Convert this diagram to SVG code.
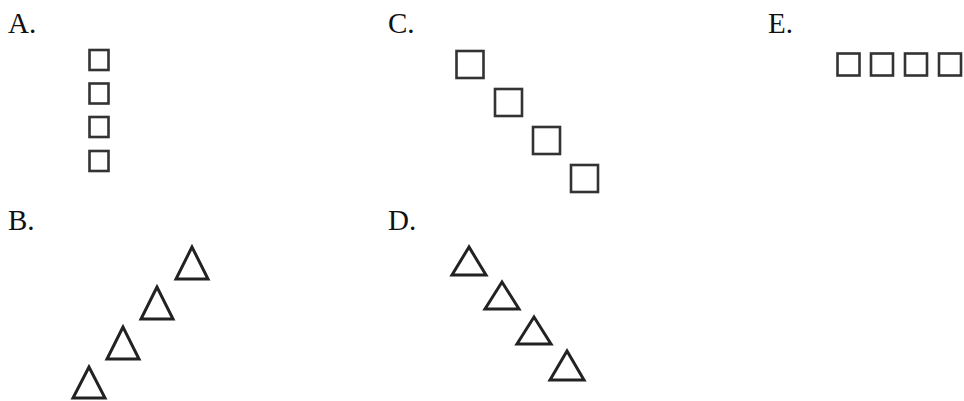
<svg xmlns="http://www.w3.org/2000/svg" width="964" height="401" viewBox="0 0 964 401">
<style>
.lbl{font-family:"Liberation Serif","Times New Roman",serif;font-size:29px;fill:#111}
.sq{fill:none;stroke:#333;stroke-width:2.6}
.tr{fill:none;stroke:#222;stroke-width:3;stroke-linejoin:miter}
</style>
<rect width="964" height="401" fill="#fff"/>
<g id="A">
<text class="lbl" x="8" y="33">A.</text>
<rect class="sq" x="89.5" y="50" width="19" height="20"/>
<rect class="sq" x="89.5" y="83.5" width="19" height="20"/>
<rect class="sq" x="89.5" y="117" width="19" height="20"/>
<rect class="sq" x="89.5" y="151" width="19" height="20"/>
</g>
<g id="C">
<text class="lbl" x="388" y="33">C.</text>
<rect class="sq" x="456.5" y="51" width="27" height="27"/>
<rect class="sq" x="495" y="89" width="27" height="27"/>
<rect class="sq" x="533" y="127" width="27" height="27"/>
<rect class="sq" x="571" y="165" width="27" height="27"/>
</g>
<g id="E">
<text class="lbl" x="768" y="33">E.</text>
<rect class="sq" x="837.5" y="53.5" width="22" height="22"/>
<rect class="sq" x="871" y="53.5" width="22" height="22"/>
<rect class="sq" x="905" y="53.5" width="22" height="22"/>
<rect class="sq" x="939" y="53.5" width="22" height="22"/>
</g>
<g id="B">
<text class="lbl" x="8" y="230">B.</text>
<polygon class="tr" points="192,247 176,279 208,279"/>
<polygon class="tr" points="157,287 141,319 173,319"/>
<polygon class="tr" points="123,327 107,359 139,359"/>
<polygon class="tr" points="89,367 73,398 105,398"/>
</g>
<g id="D">
<text class="lbl" x="388" y="230">D.</text>
<polygon class="tr" points="469,247 452,275 486,275"/>
<polygon class="tr" points="502,282 485,309 519,309"/>
<polygon class="tr" points="534,317 517,344 551,344"/>
<polygon class="tr" points="567,351 550,380 584,380"/>
</g>
</svg>
